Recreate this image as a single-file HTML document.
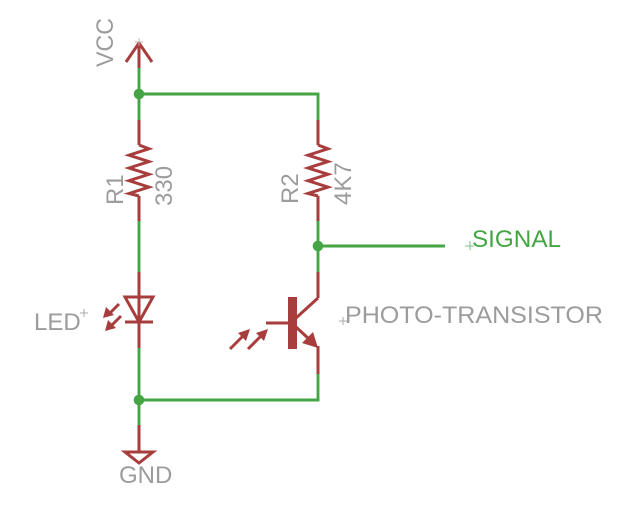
<!DOCTYPE html>
<html>
<head>
<meta charset="utf-8">
<style>
  html,body{margin:0;padding:0;background:#fff;}
  svg{display:block;}
  text{font-family:"Liberation Sans",Arial,sans-serif;font-size:24px;}
</style>
</head>
<body>
<svg width="640" height="512" viewBox="0 0 640 512" xmlns="http://www.w3.org/2000/svg">
  <rect width="640" height="512" fill="#fff"/>

  <!-- Green nets -->
  <g stroke="#45a545" stroke-width="2.9" fill="none" stroke-linecap="butt">
    <line x1="139" y1="68" x2="139" y2="120"/>
    <line x1="139" y1="94" x2="319.45" y2="94"/>
    <line x1="318" y1="94" x2="318" y2="120"/>
    <line x1="139" y1="221" x2="139" y2="272"/>
    <line x1="318" y1="221" x2="318" y2="272"/>
    <line x1="318" y1="246" x2="445" y2="246"/>
    <line x1="139" y1="348" x2="139" y2="425"/>
    <line x1="139" y1="400" x2="319.45" y2="400"/>
    <line x1="318" y1="374" x2="318" y2="401.45"/>
  </g>
  <g fill="#45a545">
    <circle cx="139" cy="94" r="5.3"/>
    <circle cx="318" cy="246" r="5.3"/>
    <circle cx="139" cy="400" r="5.3"/>
  </g>

  <!-- Red symbols -->
  <g stroke="#a83d3d" stroke-width="3" fill="none" stroke-linejoin="miter" stroke-linecap="butt">
    <!-- VCC -->
    <line x1="139" y1="43" x2="139" y2="68"/>
    <polyline points="126,62 139,43 152,62"/>
    <!-- R1 -->
    <line x1="139" y1="120" x2="139" y2="145"/>
    <polyline points="139,145 149,148.8 129,155.2 149,161.6 129,168 149,174.3 129,180.7 149,187.1 129,193.5 139,196"/>
    <line x1="139" y1="196" x2="139" y2="221"/>
    <!-- R2 -->
    <line x1="318" y1="120" x2="318" y2="145"/>
    <polyline points="318,145 328,148.8 308,155.2 328,161.6 308,168 328,174.3 308,180.7 328,187.1 308,193.5 318,196"/>
    <line x1="318" y1="196" x2="318" y2="221"/>
    <!-- LED -->
    <line x1="139" y1="272" x2="139" y2="348"/>
    <polygon points="125,297 153,297 139,322"/>
    <line x1="125" y1="322" x2="153" y2="322"/>
    <line x1="119" y1="304" x2="108" y2="315"/>
    <line x1="121" y1="316" x2="110" y2="327"/>
    <!-- GND -->
    <line x1="139" y1="425" x2="139" y2="452"/>
    <polygon points="125,452 153,452 139,463"/>
    <!-- Phototransistor -->
    <line x1="318" y1="272" x2="318" y2="298"/>
    <line x1="296" y1="318" x2="318" y2="298"/>
    <line x1="266" y1="323" x2="289" y2="323"/>
    <line x1="296" y1="327" x2="309" y2="339"/>
    <line x1="318" y1="346" x2="318" y2="374"/>
    <line x1="230" y1="349" x2="244" y2="335"/>
    <line x1="248" y1="349" x2="262" y2="335"/>
  </g>
  <g fill="#a83d3d">
    <rect x="288" y="297" width="9" height="52"/>
    <!-- emitter arrowhead -->
    <polygon points="318,348 302,343 313,332"/>
    <!-- photo arrows heads -->
    <polygon points="250,329 238,333 246,341"/>
    <polygon points="268,329 256,333 264,341"/>
    <!-- LED arrows heads -->
    <polygon points="103,318 106,307 114,315"/>
    <polygon points="105,331 108,320 116,328"/>
  </g>

  <!-- origin crosses -->
  <g stroke="#c8b0b0" stroke-width="1" fill="none">
    <line x1="135" y1="42" x2="143" y2="42"/>
    <line x1="139" y1="38" x2="139" y2="46"/>
  </g>
  <g stroke="#aaaaaa" stroke-width="1" fill="none">
    <line x1="80" y1="313" x2="88" y2="313"/>
    <line x1="84" y1="309" x2="84" y2="317"/>
    <line x1="339" y1="321" x2="347" y2="321"/>
    <line x1="343" y1="317" x2="343" y2="325"/>
  </g>
  <g stroke="#7fbf7f" stroke-width="1" fill="none">
    <line x1="465" y1="246" x2="474" y2="246"/>
    <line x1="470" y1="241" x2="470" y2="250"/>
  </g>

  <!-- Labels -->
  <g fill="#9c9c9c">
    <text x="113" y="67" transform="rotate(-90 113 67)" textLength="49" lengthAdjust="spacingAndGlyphs">VCC</text>
    <text x="123" y="205" transform="rotate(-90 123 205)">R1</text>
    <text x="172" y="206" transform="rotate(-90 172 206)">330</text>
    <text x="298" y="204" transform="rotate(-90 298 204)">R2</text>
    <text x="351" y="205" transform="rotate(-90 351 205)">4K7</text>
    <text x="34" y="330">LED</text>
    <text x="119" y="483">GND</text>
    <text x="345" y="323" textLength="258" lengthAdjust="spacingAndGlyphs">PHOTO-TRANSISTOR</text>
  </g>
  <text x="472" y="247" fill="#45a545" textLength="89" lengthAdjust="spacingAndGlyphs">SIGNAL</text>
</svg>
</body>
</html>
